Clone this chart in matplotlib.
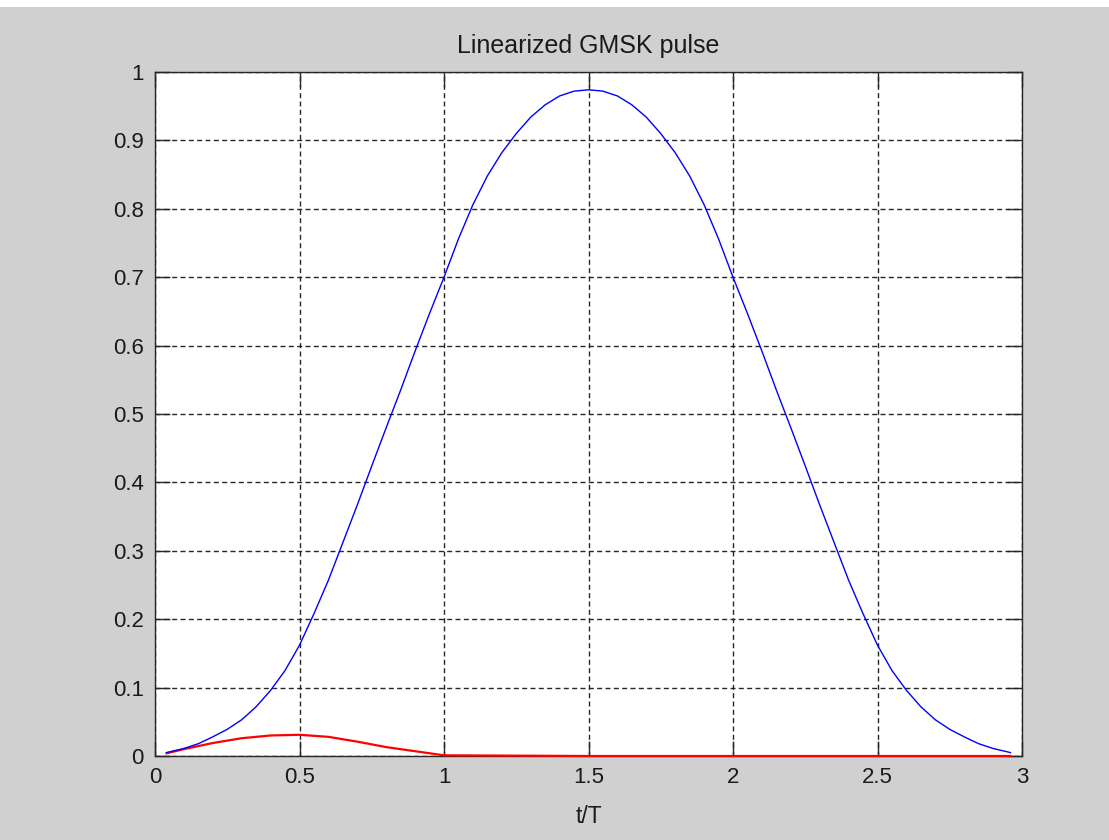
import matplotlib
matplotlib.use('Agg')
import matplotlib.pyplot as plt
from matplotlib.patches import Rectangle

# time axis (t/T) and the two pulse components
t_blue = [0.04, 0.10, 0.15, 0.20, 0.25, 0.30, 0.35, 0.40, 0.45, 0.50,
          0.55, 0.60, 0.65, 0.70, 0.75, 0.80, 0.85, 0.90, 0.95, 1.00,
          1.05, 1.10, 1.15, 1.20, 1.25, 1.30, 1.35, 1.40, 1.45, 1.50,
          1.55, 1.60, 1.65, 1.70, 1.75, 1.80, 1.85, 1.90, 1.95, 2.00,
          2.05, 2.10, 2.15, 2.20, 2.25, 2.30, 2.35, 2.40, 2.45, 2.50,
          2.55, 2.60, 2.65, 2.70, 2.75, 2.80, 2.85, 2.90, 2.96]
c0 = [0.005, 0.011, 0.018, 0.028, 0.039, 0.053, 0.072, 0.096, 0.125, 0.162,
      0.208, 0.257, 0.312, 0.367, 0.424, 0.480, 0.535, 0.592, 0.647, 0.700,
      0.756, 0.806, 0.848, 0.882, 0.910, 0.934, 0.952, 0.965, 0.972, 0.974,
      0.972, 0.965, 0.952, 0.934, 0.910, 0.882, 0.848, 0.806, 0.756, 0.700,
      0.647, 0.592, 0.535, 0.480, 0.424, 0.367, 0.312, 0.257, 0.208, 0.162,
      0.125, 0.096, 0.072, 0.053, 0.039, 0.028, 0.018, 0.011, 0.005]

t_red = [0.04, 0.10, 0.20, 0.30, 0.40, 0.50, 0.60, 0.70, 0.80, 0.90, 1.00,
         1.50, 2.00, 2.50, 2.96]
c1 = [0.004, 0.010, 0.019, 0.026, 0.030, 0.031, 0.028, 0.021, 0.013, 0.007, 0.001,
      0.0, 0.0, 0.0, 0.0]

x_ticks = [0, 0.5, 1, 1.5, 2, 2.5, 3]
y_ticks = [0, 0.1, 0.2, 0.3, 0.4, 0.5, 0.6, 0.7, 0.8, 0.9, 1]

plt.rcParams['font.family'] = ['Liberation Sans', 'DejaVu Sans']

fig = plt.figure(figsize=(11.09, 8.40), dpi=100)
fig.patch.set_facecolor('#d0d0d0')
# thin white strip along the top edge
fig.patches.append(Rectangle((0, 1 - 7 / 840), 1, 7 / 840, transform=fig.transFigure,
                             facecolor='white', edgecolor='none'))

ax = fig.add_axes([155 / 1109, 84 / 840, 867 / 1109, 684 / 840])
ax.set_facecolor('white')

ax.plot(t_red, c1, color='#ff0000', linewidth=1.6, zorder=3, clip_on=False)
ax.plot(t_blue, c0, color='#0000ff', linewidth=1.0, zorder=4)

ax.set_xlim(0, 3)
ax.set_ylim(0, 1)
ax.set_xticks(x_ticks)
ax.set_xticklabels(['0', '0.5', '1', '1.5', '2', '2.5', '3'])
ax.set_yticks(y_ticks)
ax.set_yticklabels(['0', '0.1', '0.2', '0.3', '0.4', '0.5', '0.6', '0.7', '0.8', '0.9', '1'])

ax.grid(True, color='#262626', linestyle=(0, (3.6, 2.4)), linewidth=1.0)
ax.set_axisbelow(True)
ax.tick_params(direction='in', length=11, width=1.0, color='#262626',
               top=True, right=True, labelsize=16, labelcolor='#1a1a1a', pad=8)
for sp in ax.spines.values():
    sp.set_edgecolor('#262626')
    sp.set_linewidth(1.0)

ax.set_title('Linearized GMSK pulse', fontsize=18, color='#1a1a1a', pad=14)
ax.set_xlabel('t/T', fontsize=16.5, color='#1a1a1a', labelpad=12)

fig.savefig('out.png', dpi=100, facecolor=fig.get_facecolor())
